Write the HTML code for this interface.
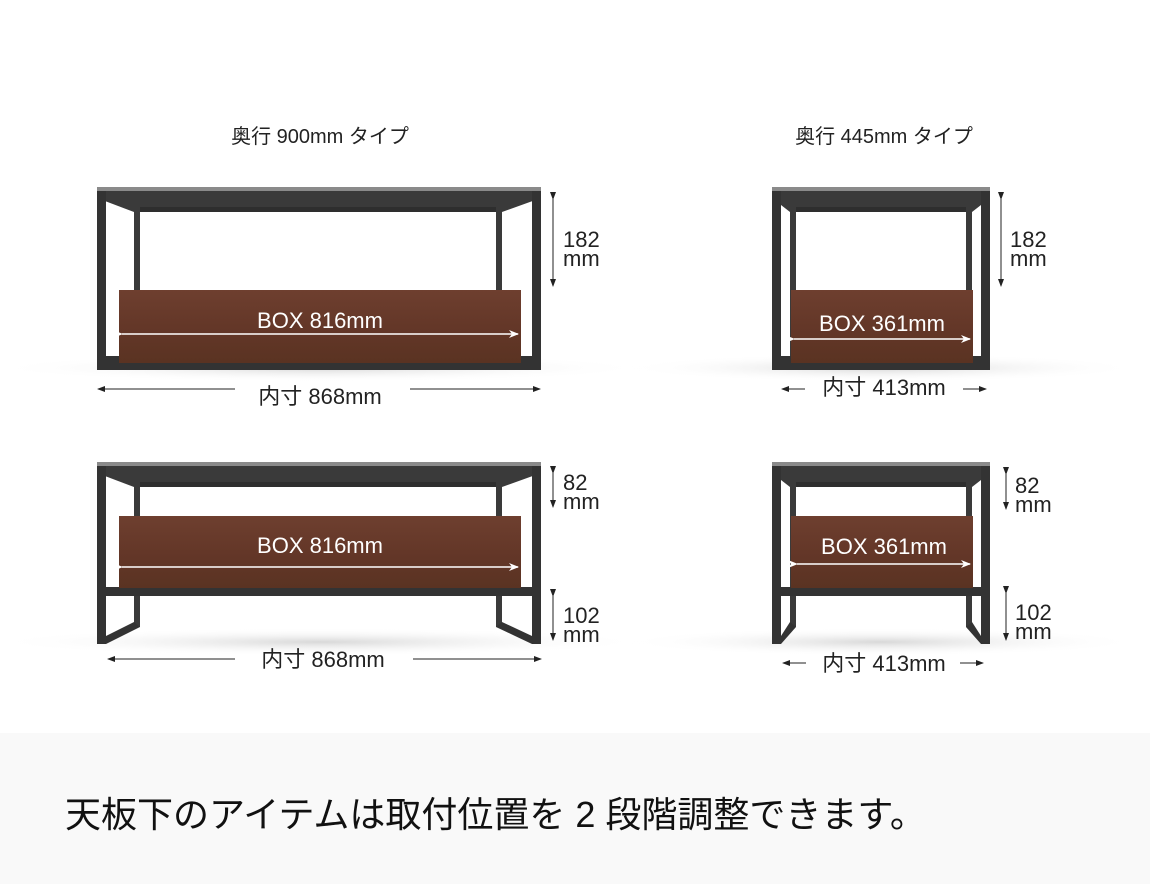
<!DOCTYPE html>
<html><head><meta charset="utf-8"><style>
html,body{margin:0;padding:0;background:#fff}
svg{display:block}
text{font-family:"Liberation Sans","Noto Sans CJK JP",sans-serif}
</style></head><body>
<svg width="1150" height="884" viewBox="0 0 1150 884" xmlns="http://www.w3.org/2000/svg">
<defs>
<linearGradient id="wood" x1="0" y1="0" x2="0" y2="1">
<stop offset="0" stop-color="#6e3f2f"/><stop offset="0.5" stop-color="#643728"/><stop offset="1" stop-color="#5a3322"/>
</linearGradient>
<radialGradient id="sh" cx="0.5" cy="0.5" r="0.5">
<stop offset="0" stop-color="#d8d8d8"/><stop offset="1" stop-color="#fff" stop-opacity="0"/>
</radialGradient>
<marker id="ah" markerWidth="8" markerHeight="8" refX="7" refY="4" orient="auto" markerUnits="userSpaceOnUse"><path d="M0,1 L8,4 L0,7 z" fill="#222"/></marker>
<marker id="aw" markerWidth="10" markerHeight="8" refX="9" refY="4" orient="auto" markerUnits="userSpaceOnUse"><path d="M0,0 L10,4 L0,8 L3,4 z" fill="#fff"/></marker>
</defs>
<rect x="0" y="733" width="1150" height="151" fill="#f9f9f9"/>

<ellipse cx="320" cy="368" rx="330" ry="14" fill="url(#sh)"/>
<ellipse cx="881" cy="368" rx="260" ry="14" fill="url(#sh)"/>
<ellipse cx="320" cy="642" rx="330" ry="14" fill="url(#sh)"/>
<ellipse cx="881" cy="642" rx="260" ry="14" fill="url(#sh)"/>

<text x="320" y="143" font-size="20" text-anchor="middle" fill="#222">奥行 900mm タイプ</text>
<text x="884" y="143" font-size="20" text-anchor="middle" fill="#222">奥行 445mm タイプ</text>

<!-- TL -->
<g>
<rect x="97" y="187" width="444" height="4" fill="#8a8a8a"/>
<polygon points="97,191 541,191 541,198 502,212 134,212 97,198" fill="#3a3a3a"/>
<rect x="134" y="207" width="368" height="5" fill="#2e2e2e"/>
<rect x="97" y="191" width="9" height="179" fill="#333"/>
<rect x="532" y="191" width="9" height="179" fill="#333"/>
<rect x="134" y="207" width="6" height="150" fill="#3a3a3a"/>
<rect x="496" y="207" width="6" height="150" fill="#3a3a3a"/>
<rect x="97" y="356" width="444" height="14" fill="#333"/>
<rect x="119" y="290" width="402" height="73" fill="url(#wood)"/>
<line x1="122" y1="334" x2="518" y2="334" stroke="#fff" stroke-width="1.5" marker-end="url(#aw)" marker-start="url(#aw)"/>
<text x="320" y="328" font-size="22" fill="#fff" text-anchor="middle">BOX 816mm</text>
<line x1="553" y1="199" x2="553" y2="286" stroke="#222" stroke-width="1" marker-end="url(#ah)" marker-start="url(#ah)"/>
<text x="563" y="247" font-size="22" fill="#222">182</text>
<text x="563" y="266" font-size="22" fill="#222">mm</text>
<line x1="235" y1="389" x2="98" y2="389" stroke="#222" stroke-width="1" marker-end="url(#ah)"/>
<line x1="410" y1="389" x2="540" y2="389" stroke="#222" stroke-width="1" marker-end="url(#ah)"/>
<text x="320" y="404" font-size="22" fill="#222" text-anchor="middle">内寸 868mm</text>
</g>

<!-- TR -->
<g>
<rect x="772" y="187" width="218" height="4" fill="#8a8a8a"/>
<polygon points="772,191 990,191 990,198 972,212 790,212 772,198" fill="#3a3a3a"/>
<rect x="790" y="207" width="182" height="5" fill="#2e2e2e"/>
<rect x="772" y="191" width="9" height="179" fill="#333"/>
<rect x="981" y="191" width="9" height="179" fill="#333"/>
<rect x="790" y="207" width="6" height="150" fill="#3a3a3a"/>
<rect x="966" y="207" width="6" height="150" fill="#3a3a3a"/>
<rect x="772" y="356" width="218" height="14" fill="#333"/>
<rect x="791" y="290" width="182" height="73" fill="url(#wood)"/>
<line x1="794" y1="339" x2="970" y2="339" stroke="#fff" stroke-width="1.5" marker-end="url(#aw)" marker-start="url(#aw)"/>
<text x="882" y="331" font-size="22" fill="#fff" text-anchor="middle">BOX 361mm</text>
<line x1="1001" y1="199" x2="1001" y2="286" stroke="#222" stroke-width="1" marker-end="url(#ah)" marker-start="url(#ah)"/>
<text x="1010" y="247" font-size="22" fill="#222">182</text>
<text x="1010" y="266" font-size="22" fill="#222">mm</text>
<line x1="805" y1="389" x2="782" y2="389" stroke="#222" stroke-width="1" marker-end="url(#ah)"/>
<line x1="963" y1="389" x2="986" y2="389" stroke="#222" stroke-width="1" marker-end="url(#ah)"/>
<text x="884" y="395" font-size="22" fill="#222" text-anchor="middle">内寸 413mm</text>
</g>

<!-- BL -->
<g>
<rect x="97" y="462" width="444" height="4" fill="#8a8a8a"/>
<polygon points="97,466 541,466 541,473 502,487 134,487 97,473" fill="#3a3a3a"/>
<rect x="134" y="482" width="368" height="5" fill="#2e2e2e"/>
<rect x="97" y="466" width="9" height="178" fill="#333"/>
<rect x="532" y="466" width="9" height="178" fill="#333"/>
<rect x="134" y="482" width="6" height="145" fill="#3a3a3a"/>
<rect x="496" y="482" width="6" height="145" fill="#3a3a3a"/>
<polygon points="106,636 134,622 140,627 106,644" fill="#333"/>
<polygon points="532,636 502,622 496,627 532,644" fill="#333"/>
<rect x="97" y="587" width="444" height="9" fill="#333"/>
<rect x="119" y="516" width="402" height="72" fill="url(#wood)"/>
<line x1="122" y1="567" x2="518" y2="567" stroke="#fff" stroke-width="1.5" marker-end="url(#aw)" marker-start="url(#aw)"/>
<text x="320" y="553" font-size="22" fill="#fff" text-anchor="middle">BOX 816mm</text>
<line x1="553" y1="473" x2="553" y2="507" stroke="#222" stroke-width="1" marker-end="url(#ah)" marker-start="url(#ah)"/>
<text x="563" y="490" font-size="22" fill="#222">82</text>
<text x="563" y="509" font-size="22" fill="#222">mm</text>
<line x1="553" y1="596" x2="553" y2="640" stroke="#222" stroke-width="1" marker-end="url(#ah)" marker-start="url(#ah)"/>
<text x="563" y="623" font-size="22" fill="#222">102</text>
<text x="563" y="642" font-size="22" fill="#222">mm</text>
<line x1="235" y1="659" x2="108" y2="659" stroke="#222" stroke-width="1" marker-end="url(#ah)"/>
<line x1="413" y1="659" x2="541" y2="659" stroke="#222" stroke-width="1" marker-end="url(#ah)"/>
<text x="323" y="667" font-size="22" fill="#222" text-anchor="middle">内寸 868mm</text>
</g>

<!-- BR -->
<g>
<rect x="772" y="462" width="218" height="4" fill="#8a8a8a"/>
<polygon points="772,466 990,466 990,473 972,487 790,487 772,473" fill="#3a3a3a"/>
<rect x="790" y="482" width="182" height="5" fill="#2e2e2e"/>
<rect x="772" y="466" width="9" height="178" fill="#333"/>
<rect x="981" y="466" width="9" height="178" fill="#333"/>
<rect x="790" y="482" width="6" height="145" fill="#3a3a3a"/>
<rect x="966" y="482" width="6" height="145" fill="#3a3a3a"/>
<polygon points="781,636 790,622 796,627 781,644" fill="#333"/>
<polygon points="981,636 972,622 966,627 981,644" fill="#333"/>
<rect x="772" y="587" width="218" height="9" fill="#333"/>
<rect x="791" y="516" width="182" height="72" fill="url(#wood)"/>
<line x1="797" y1="564" x2="970" y2="564" stroke="#fff" stroke-width="1.5" marker-end="url(#aw)" marker-start="url(#aw)"/>
<text x="884" y="554" font-size="22" fill="#fff" text-anchor="middle">BOX 361mm</text>
<line x1="1006" y1="474" x2="1006" y2="509" stroke="#222" stroke-width="1" marker-end="url(#ah)" marker-start="url(#ah)"/>
<text x="1015" y="493" font-size="22" fill="#222">82</text>
<text x="1015" y="512" font-size="22" fill="#222">mm</text>
<line x1="1006" y1="593" x2="1006" y2="640" stroke="#222" stroke-width="1" marker-end="url(#ah)" marker-start="url(#ah)"/>
<text x="1015" y="620" font-size="22" fill="#222">102</text>
<text x="1015" y="639" font-size="22" fill="#222">mm</text>
<line x1="806" y1="663" x2="783" y2="663" stroke="#222" stroke-width="1" marker-end="url(#ah)"/>
<line x1="960" y1="663" x2="983" y2="663" stroke="#222" stroke-width="1" marker-end="url(#ah)"/>
<text x="884" y="671" font-size="22" fill="#222" text-anchor="middle">内寸 413mm</text>
</g>

<text x="65" y="827" font-size="36" fill="#111">天板下のアイテムは取付位置を 2 段階調整できます。</text>
</svg>
</body></html>
